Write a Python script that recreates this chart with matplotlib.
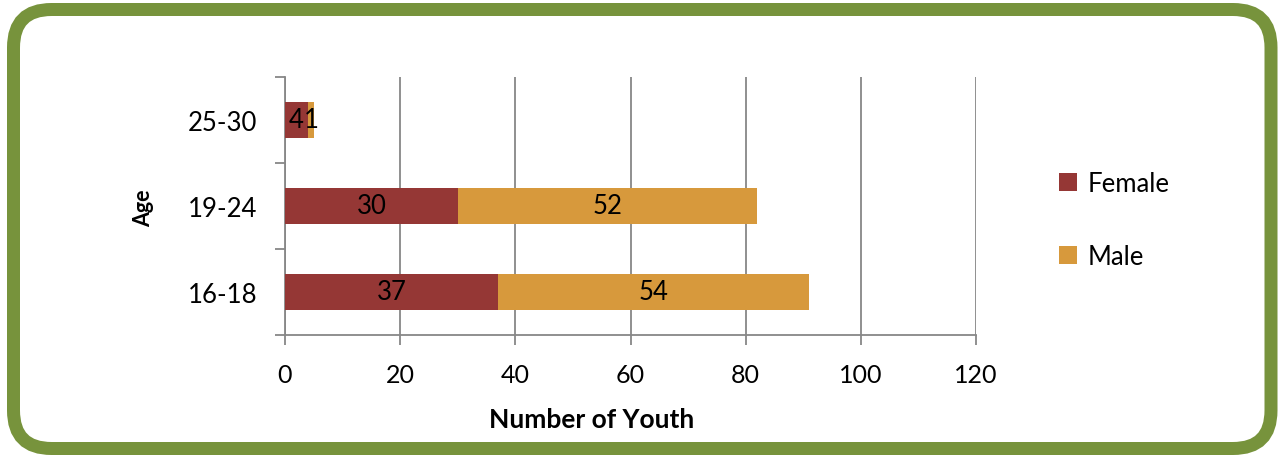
import matplotlib
matplotlib.use("Agg")
import matplotlib.pyplot as plt
from matplotlib.patches import FancyBboxPatch
import numpy as np

plt.rcParams['font.family'] = ['Lato', 'DejaVu Sans']

# Data
age_groups = ["16-18", "19-24", "25-30"]
female = [37, 30, 4]
male = [54, 52, 1]
series_names = ["Female", "Male"]
x_ticks = [0, 20, 40, 60, 80, 100, 120]

female_color = "#953735"
male_color = "#D7993C"
frame_color = "#77933C"
grid_color = "#878787"

W, H = 1278, 456
fig = plt.figure(figsize=(W / 100, H / 100), dpi=100)

# Rounded green frame drawn in pixel coordinates
bg = fig.add_axes([0, 0, 1, 1], zorder=0)
bg.set_xlim(0, W)
bg.set_ylim(H, 0)
bg.axis("off")
bg.add_patch(FancyBboxPatch((13.5, 10.5), 1271 - 13.5, 449.5 - 10.5,
                            boxstyle="round,pad=0,rounding_size=38",
                            facecolor="white", edgecolor=frame_color,
                            linewidth=13 * 72 / 100))

# Axis titles
bg.text(592, 420, "Number of Youth", ha="center", va="center",
        fontsize=19, fontweight="bold")
bg.text(144, 208, "Age", ha="center", va="center", rotation=90,
        fontsize=15.5, fontweight="bold")

# Main chart
ax = fig.add_axes([285 / W, 1 - 336 / H, (976 - 285) / W, (336 - 78) / H], zorder=1)
ax.patch.set_alpha(0)
y = np.arange(len(age_groups))
bar_h = 0.43
ax.barh(y, female, height=bar_h, color=female_color, zorder=3, label=series_names[0])
ax.barh(y, male, left=female, height=bar_h, color=male_color, zorder=3, label=series_names[1])

for yi, f, m in zip(y, female, male):
    ax.text(f / 2, yi, str(f), ha="center", va="center", fontsize=18.5, zorder=4)
    ax.text(f + m / 2, yi, str(m), ha="center", va="center", fontsize=18.5, zorder=4)

ax.set_xlim(0, 120)
ax.set_ylim(-0.5, len(age_groups) - 0.5)
ax.set_xticks(x_ticks)
ax.set_xticklabels([str(t) for t in x_ticks], fontsize=18)
ax.set_yticks(y)
ax.set_yticklabels(age_groups, fontsize=18.5)
ax.set_yticks(np.arange(len(age_groups) + 1) - 0.5, minor=True)
ax.tick_params(axis="y", which="major", length=0, pad=20)
ax.tick_params(axis="y", which="minor", length=7, color=grid_color, width=1.3)
ax.tick_params(axis="x", which="major", length=7, color=grid_color, width=1.3, pad=13)
ax.grid(axis="x", color=grid_color, linewidth=1.3, zorder=0)
for side in ["top", "right"]:
    ax.spines[side].set_visible(False)
for side in ["left", "bottom"]:
    ax.spines[side].set_color(grid_color)
    ax.spines[side].set_linewidth(1.3)

ax.legend(loc="center left", bbox_to_anchor=(1036 / W, 1 - 221 / H),
          bbox_transform=fig.transFigure, frameon=False, fontsize=18.5,
          handlelength=0.7, handleheight=0.7, handletextpad=0.4,
          labelspacing=1.85)

fig.savefig("out.png", dpi=100)
